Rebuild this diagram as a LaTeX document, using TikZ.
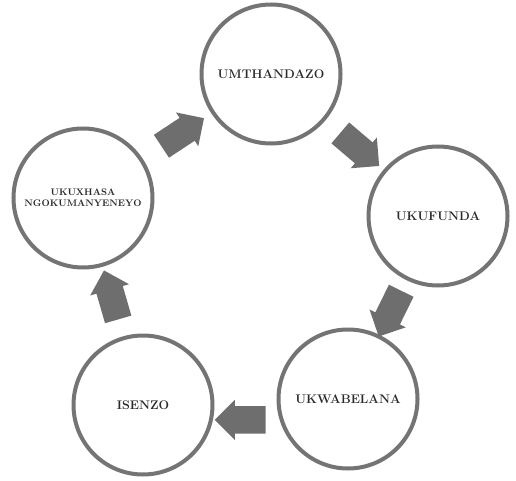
\documentclass[tikz,border=0pt]{standalone}
\usepackage{tikz}
\usetikzlibrary{shapes.arrows,calc}
\usepackage{xcolor}
\definecolor{RingGray}{HTML}{747474}
\definecolor{ArrowGray}{HTML}{6E6E6E}
\definecolor{LabelDark}{HTML}{2A2A2A}
\tikzset{
  stagenode/.style={circle,draw=RingGray,line width=4pt,fill=white,minimum size=139pt,inner sep=0pt,align=center,text=LabelDark,font=\bfseries\fontsize{12.5}{15}\selectfont},
  smalllabel/.style={font=\bfseries\fontsize{9.5}{11}\selectfont},
  blockarrow/.style={single arrow,fill=ArrowGray,draw=none,minimum height=51pt,minimum width=40pt,single arrow head extend=6.5pt,inner xsep=0pt,inner ysep=13.5pt,sloped,allow upside down}
}
\begin{document}
\begin{tikzpicture}[x=1pt,y=1pt]
\useasboundingbox (0,0) rectangle (516,-481);
\node[stagenode] (thandazo) at (271,-74) {UMTHANDAZO};
\node[stagenode] (funda) at (438,-216) {UKUFUNDA};
\node[stagenode] (belana) at (348,-399) {UKWABELANA};
\node[stagenode] (senzo) at (143,-405) {ISENZO};
\node[stagenode,smalllabel] (xhasa) at (83,-198) {UKUXHASA\\NGOKUMANYENEYO};
% block arrows between the stages
\path (xhasa) -- (thandazo) node[blockarrow,midway] (a1) {};
\path (thandazo) -- (funda) node[blockarrow,midway] (a2) {};
\path (funda) -- (belana) node[blockarrow,midway] (a3) {};
\path (belana.197) -- (belana.197 -| senzo.east) node[blockarrow,midway] (a4) {};
\path (senzo) -- (xhasa) node[blockarrow,midway] (a5) {};
\end{tikzpicture}
\end{document}
